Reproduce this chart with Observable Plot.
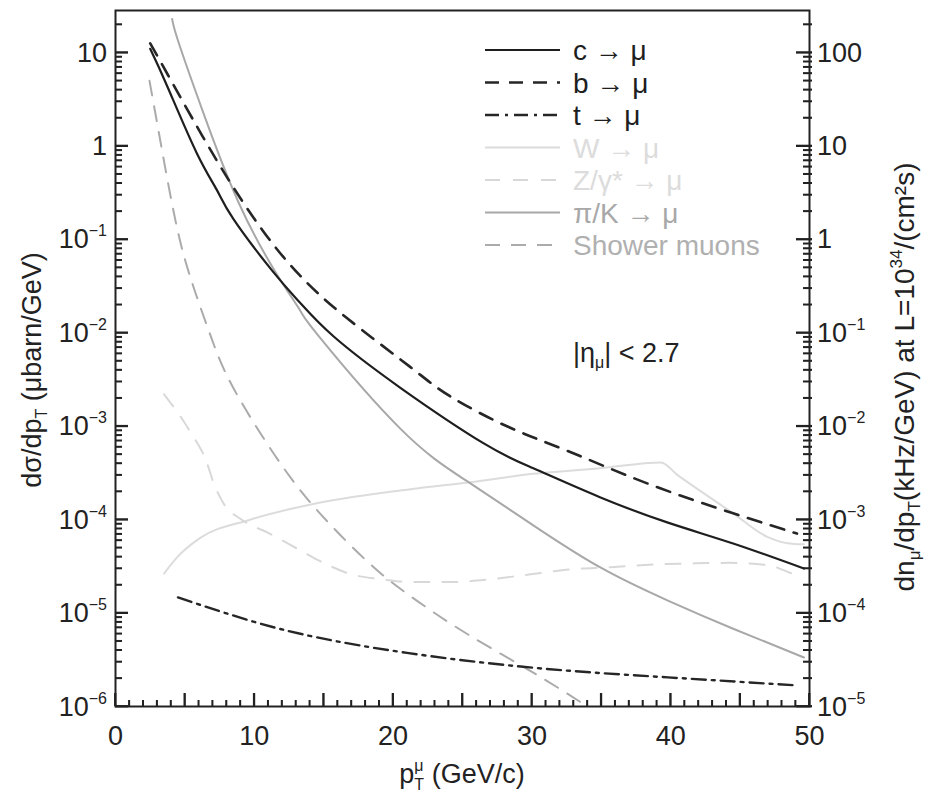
<!DOCTYPE html>
<html>
<head>
<meta charset="utf-8">
<script src="https://cdn.jsdelivr.net/npm/d3@7"></script>
<script src="https://cdn.jsdelivr.net/npm/@observablehq/plot@0.6"></script>
<style>
  html, body { margin: 0; padding: 0; background: #fff; }
  #chart { width: 932px; height: 796px; position: relative; }
  #chart > svg { display: block; }
  #overlay { position: absolute; left: 0; top: 0; pointer-events: none; }
</style>
</head>
<body>
<div id="chart"></div>
<script>
// ------------------------- data -------------------------
const seriesNames = ["c → μ", "b → μ", "t → μ", "W → μ", "Z/γ* → μ", "π/K → μ", "Shower muons"];

const cPt  = [2.5, 3.72, 5.84, 7.3, 8.5, 11.36, 13.3, 15.7, 20.5, 26.5, 30.1, 34.9, 39.8, 44.5, 49.6];
const cVal = [11, 4.4, 0.85, 0.34, 0.165, 0.045, 0.021, 0.0092, 0.0026, 0.00066, 0.000355, 0.000174, 0.000093, 0.0000556, 0.000030];

const bPt  = [2.5, 3.8, 7.3, 10.6, 13.3, 16.6, 21.25, 24.1, 28.2, 32.5, 38.3, 44.5, 49.1];
const bVal = [12.6, 5.7, 0.70, 0.125, 0.041, 0.0147, 0.0043, 0.0021, 0.0010, 0.00055, 0.000245, 0.000117, 0.000071];

const tPt  = [4.5, 9.7, 14.5, 21.0, 30.1, 39.8, 49.1];
const tVal = [1.47e-5, 8.3e-6, 5.5e-6, 3.75e-6, 2.6e-6, 2.05e-6, 1.68e-6];

const wPt  = [3.5, 4.4, 6.05, 9.7, 14.5, 21.7, 25.4, 30.1, 34.9, 39.3, 40.5, 42.1, 44.5, 47.0, 48.4, 49.6];
const wVal = [2.65e-5, 3.9e-5, 6.3e-5, 1.0e-4, 1.5e-4, 2.16e-4, 2.5e-4, 3.1e-4, 3.55e-4, 4.1e-4, 3.0e-4, 2.05e-4, 1.17e-4, 6.5e-5, 5.6e-5, 5.45e-5];

const zPt  = [3.5, 5.33, 6.55, 7.1, 7.8, 9.1, 11.1, 13.2, 14.9, 17.0, 19.2, 21.4, 24.1, 27.0, 29.9, 32.8, 35.7, 38.5, 41.4, 44.3, 47.0, 48.6, 49.1];
const zVal = [2.2e-3, 9.0e-4, 4.2e-4, 2.4e-4, 1.48e-4, 1.0e-4, 7.1e-5, 4.8e-5, 3.5e-5, 2.6e-5, 2.3e-5, 2.15e-5, 2.15e-5, 2.3e-5, 2.6e-5, 2.95e-5, 3.1e-5, 3.3e-5, 3.4e-5, 3.45e-5, 3.25e-5, 2.7e-5, 2.5e-5];

const piPt  = [4.08, 4.5, 6.27, 8.9, 11.6, 13.3, 14.7, 20.5, 25.3, 30.1, 34.9, 39.8, 44.5, 49.6];
const piVal = [23, 13.5, 2.4, 0.243, 0.043, 0.0174, 0.009, 9.5e-4, 2.6e-4, 8.7e-5, 3.1e-5, 1.36e-5, 6.8e-6, 3.35e-6];

const shPt  = [2.45, 3.36, 4.47, 5.6, 6.9, 8.6, 12.1, 15.2, 18.6, 21.7, 25.4, 30.1, 34.0];
const shVal = [5.0, 0.89, 0.126, 0.0316, 8.9e-3, 2.4e-3, 3.6e-4, 9.8e-5, 3.1e-5, 1.36e-5, 5.9e-6, 2.3e-6, 1.0e-6];

// ticks and tick labels
const xLabelTicks = [0, 10, 20, 30, 40, 50];
const xMajorTicks = [0, 5, 10, 15, 20, 25, 30, 35, 40, 45, 50];
const xMinorTicks = d3.range(0, 51).filter(v => v % 5 !== 0);
const yMajorTicks = [1e-6, 1e-5, 1e-4, 1e-3, 1e-2, 1e-1, 1, 10];
const yLeftBase  = ["10", "10", "10", "10", "10", "10", "1", "10"];
const yLeftExp   = ["−6", "−5", "−4", "−3", "−2", "−1", "", ""];
const yRightBase = ["10", "10", "10", "10", "10", "1", "10", "100"];
const yRightExp  = ["−5", "−4", "−3", "−2", "−1", "", "", ""];
const yMinorTicks = d3.range(-6, 1).flatMap(k => d3.range(2, 10).map(m => +(m * Math.pow(10, k)).toPrecision(3))).concat([20]);

const notePt = 33.0;
const noteVal = 5.96e-3;

// ------------------------- styles -------------------------
const styles = [
  {stroke: "#1e1e1e", width: 2.2, dash: null, text: "#1e1e1e", curve: "natural"},
  {stroke: "#262626", width: 2.6, dash: "14,10", text: "#1e1e1e", curve: "natural"},
  {stroke: "#262626", width: 2.4, dash: "14,6,3,6", text: "#1e1e1e", curve: "natural"},
  {stroke: "#dcdcdc", width: 2.0, dash: null, text: "#dcdcdc", curve: "monotone-x"},
  {stroke: "#d8d8d8", width: 2.0, dash: "15,13", text: "#dcdcdc", curve: "monotone-x"},
  {stroke: "#a8a8a8", width: 2.0, dash: null, text: "#a8a8a8", curve: "natural"},
  {stroke: "#ababab", width: 2.0, dash: "15,11", text: "#b0b0b0", curve: "natural"}
];

const W = 932, H = 796;
const mL = 115, mR = 123, mT = 10, mB = 90;
const plotW = W - mL - mR, plotH = H - mT - mB;
const FS = 27, SUP = 16;
const AX = "#222";
const font = "'Liberation Sans', Arial, Helvetica, sans-serif";

const seriesPt = [cPt, bPt, tPt, wPt, zPt, piPt, shPt];
const seriesVal = [cVal, bVal, tVal, wVal, zVal, piVal, shVal];
const rows = seriesNames.flatMap((name, i) =>
  seriesPt[i].map((x, j) => ({series: name, pt: x, v: seriesVal[i][j]})));

const drawOrder = [3, 4, 6, 5, 2, 1, 0];
const lineMarks = drawOrder.map(i => Plot.line(rows.filter(r => r.series === seriesNames[i]), {
  x: "pt", y: "v",
  stroke: styles[i].stroke, strokeWidth: styles[i].width,
  strokeDasharray: styles[i].dash, curve: styles[i].curve
}));

const svgEl = Plot.plot({
  width: W, height: H,
  marginLeft: mL, marginRight: mR, marginTop: mT, marginBottom: mB,
  x: {domain: [0, 50]},
  y: {type: "log", domain: [1e-6, 28.3], axis: null},
  style: {background: "#fff", color: AX, fontFamily: font, fontSize: FS + "px"},
  marks: [
    ...lineMarks,
    Plot.tickY(yMajorTicks, {y: d => d, insetRight: plotW - 13, stroke: AX, strokeWidth: 1.8}),
    Plot.tickY(yMinorTicks, {y: d => d, insetRight: plotW - 7, stroke: AX, strokeWidth: 1.5}),
    Plot.tickY(yMajorTicks, {y: d => d, insetLeft: plotW - 13, insetRight: -3, stroke: AX, strokeWidth: 1.8}),
    Plot.tickY(yMinorTicks, {y: d => d, insetLeft: plotW - 6, insetRight: -3, stroke: AX, strokeWidth: 1.5}),
    Plot.tickX(xMajorTicks, {x: d => d, insetTop: plotH - 13, stroke: AX, strokeWidth: 1.8}),
    Plot.tickX(xMinorTicks, {x: d => d, insetTop: plotH - 6, stroke: AX, strokeWidth: 1.5}),
    Plot.frame({stroke: AX, strokeWidth: 2}),
    Plot.axisX({anchor: "bottom", ticks: xLabelTicks, tickSize: 0, tickPadding: 19, tickFormat: d => String(d), label: null})
  ]
});

const chart = document.getElementById("chart");
chart.appendChild(svgEl);
const sx = svgEl.scale("x"), sy = svgEl.scale("y");
const X = v => sx.apply(v), Y = v => sy.apply(v);
const xL = X(0), xR = X(50), yB = Y(1e-6);

// ---- overlay: ticks (again, through Plot's scales) and texts with super/subscripts ----
const ov = d3.select(chart).append("svg").attr("id", "overlay")
  .attr("width", W).attr("height", H).attr("viewBox", `0 0 ${W} ${H}`);

const tg = ov.append("g").attr("stroke", AX).attr("fill", "none");
function tickSet(values, pos, x1f, x2f, y1f, y2f, sw) {
  values.forEach(v => {
    const p = pos(v);
    tg.append("line").attr("stroke-width", sw)
      .attr("x1", x1f(p)).attr("x2", x2f(p)).attr("y1", y1f(p)).attr("y2", y2f(p));
  });
}
tickSet(yMajorTicks, Y, () => xL, () => xL + 13, p => p, p => p, 1.8);
tickSet(yMinorTicks, Y, () => xL, () => xL + 7, p => p, p => p, 1.5);
tickSet(yMajorTicks, Y, () => xR - 13, () => xR + 3, p => p, p => p, 1.8);
tickSet(yMinorTicks, Y, () => xR - 6, () => xR + 3, p => p, p => p, 1.5);
tickSet(xMajorTicks, X, p => p, p => p, () => yB, () => yB - 13, 1.8);
tickSet(xMinorTicks, X, p => p, p => p, () => yB, () => yB - 6, 1.5);

// lay out a run of separate text pieces on one baseline
function layout(parent, segs, x, y, anchor, fill, baseSize = FS) {
  const placed = [];
  let cx = 0, prevStart = 0;
  segs.forEach(s => {
    if (!s.t) return;
    const el = parent.append("text")
      .attr("font-size", s.size || baseSize).attr("font-family", font)
      .attr("fill", fill).attr("text-anchor", "start")
      .attr("x", 0).attr("y", y + (s.shift || 0)).text(s.t);
    const w = el.node().getComputedTextLength();
    let start;
    if (s.stack) { start = prevStart; cx = Math.max(cx, prevStart + w); }
    else { start = cx; cx += w; }
    prevStart = start;
    placed.push([el, start]);
  });
  const off = anchor === "end" ? -cx : anchor === "middle" ? -cx / 2 : 0;
  placed.forEach(([el, start]) => el.attr("x", x + off + start));
}

// y tick labels
yMajorTicks.forEach((v, i) => {
  const by = Y(v) + 9.5;
  layout(ov, [{t: yLeftBase[i]}, {t: yLeftExp[i], size: SUP, shift: -12}], xL - 8, by, "end", AX);
  layout(ov, [{t: yRightBase[i]}, {t: yRightExp[i], size: SUP, shift: -12}], xR + 8, by, "start", AX);
});

// annotation
layout(ov, [{t: "|η"}, {t: "μ", size: SUP, shift: 6}, {t: "| < 2.7"}], X(notePt), Y(noteVal) + 9, "start", AX);

// x title
layout(ov, [{t: "p"}, {t: "T", size: SUP, shift: 7}, {t: "μ", size: SUP, shift: -12, stack: true}, {t: "\u00a0(GeV/c)"}],
  (xL + xR) / 2, 783, "middle", AX);

// left title
const lgT = ov.append("g").attr("transform", "translate(41,370) rotate(-90)");
layout(lgT, [{t: "dσ/dp"}, {t: "T", size: SUP, shift: 6}, {t: "\u00a0(μbarn/GeV)"}], 0, 0, "middle", AX);

// right title
const rgT = ov.append("g").attr("transform", "translate(914,377) rotate(-90)");
layout(rgT, [{t: "dn"}, {t: "μ", size: 17, shift: 6}, {t: "/dp"}, {t: "T", size: 17, shift: 6},
  {t: "(kHz/GeV) at L=10"}, {t: "34", size: 17, shift: -12}, {t: "/(cm²s)"}], 0, 0, "middle", AX, 28);

// legend
const lg = ov.append("g");
seriesNames.forEach((name, i) => {
  const st = styles[i];
  const y = 50 + i * 32.5;
  lg.append("line").attr("x1", 485).attr("x2", 560).attr("y1", y).attr("y2", y)
    .attr("stroke", st.stroke).attr("stroke-width", st.width)
    .attr("stroke-dasharray", st.dash);
  lg.append("text").attr("x", 573).attr("y", y + 10).attr("font-size", 28)
    .attr("font-family", font).attr("text-anchor", "start").attr("fill", st.text).text(name);
});
</script>
</body>
</html>
